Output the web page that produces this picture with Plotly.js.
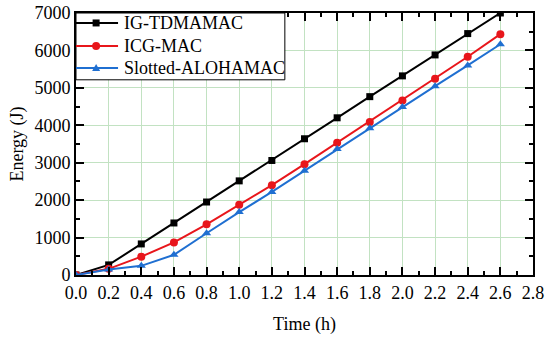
<!DOCTYPE html>
<html>
<head>
<meta charset="utf-8">
<script src="https://cdn.plot.ly/plotly-3.0.1.min.js"></script>
<style>html,body{margin:0;padding:0;background:#fff;}#chart{width:550px;height:340px;}</style>
</head>
<body>
<div id="chart"></div>
<script>
const timeH = [0.0, 0.2, 0.4, 0.6, 0.8, 1.0, 1.2, 1.4, 1.6, 1.8, 2.0, 2.2, 2.4, 2.6];
const igTdmaMac = [0, 270, 830, 1390, 1950, 2515, 3060, 3640, 4200, 4765, 5320, 5880, 6450, 7000];
const icgMac = [0, 165, 490, 870, 1355, 1880, 2400, 2960, 3535, 4090, 4665, 5240, 5830, 6435];
const slottedAloha = [0, 150, 245, 540, 1115, 1680, 2220, 2785, 3365, 3920, 4490, 5045, 5600, 6165];
const seriesNames = ['IG-TDMAMAC', 'ICG-MAC', 'Slotted-ALOHAMAC'];
const seriesColors = ['#000000', '#e8161b', '#1f6fd1'];
const xTicks = [0.0, 0.2, 0.4, 0.6, 0.8, 1.0, 1.2, 1.4, 1.6, 1.8, 2.0, 2.2, 2.4, 2.6, 2.8];
const yTicks = [0, 1000, 2000, 3000, 4000, 5000, 6000, 7000];

const font = '"Liberation Serif"';
const traces = [
  {x: timeH, y: igTdmaMac, name: seriesNames[0], mode: 'lines+markers',
   line: {color: seriesColors[0], width: 2}, marker: {symbol: 'square', size: 7, color: seriesColors[0]}},
  {x: timeH, y: icgMac, name: seriesNames[1], mode: 'lines+markers',
   line: {color: seriesColors[1], width: 2}, marker: {symbol: 'circle', size: 8, color: seriesColors[1]}},
  {x: timeH, y: slottedAloha, name: seriesNames[2], mode: 'lines+markers',
   line: {color: seriesColors[2], width: 2}, marker: {symbol: 'triangle-up', size: 8, color: seriesColors[2]}}
];

// Hand-built legend (layout only): box, line samples, marker samples, labels
const legRowsY = [0.962, 0.874, 0.790];
const shapes = [
  {type: 'rect', xref: 'paper', yref: 'paper', x0: 0, x1: 0.457, y0: 0.745, y1: 1,
   fillcolor: '#fff', line: {color: '#000', width: 1}, layer: 'above'}
];
const annotations = [];
const markerPaths = [
  'M-3.5,-3.5 L3.5,-3.5 L3.5,3.5 L-3.5,3.5 Z',
  null,
  'M-4,-3 L4,-3 L0,4 Z'
];
legRowsY.forEach((yy, i) => {
  shapes.push({type: 'line', xref: 'paper', yref: 'paper', x0: 0, x1: 0.092, y0: yy, y1: yy,
               line: {color: seriesColors[i], width: 2}, layer: 'above'});
  if (i === 1) {
    shapes.push({type: 'circle', xref: 'paper', yref: 'paper', xsizemode: 'pixel', ysizemode: 'pixel',
                 xanchor: 0.044, yanchor: yy, x0: -4, x1: 4, y0: -4, y1: 4,
                 fillcolor: seriesColors[i], line: {color: seriesColors[i], width: 0}, layer: 'above'});
  } else {
    shapes.push({type: 'path', xref: 'paper', yref: 'paper', xsizemode: 'pixel', ysizemode: 'pixel',
                 xanchor: 0.044, yanchor: yy, path: markerPaths[i],
                 fillcolor: seriesColors[i], line: {color: seriesColors[i], width: 0}, layer: 'above'});
  }
  annotations.push({xref: 'paper', yref: 'paper', x: 0.1, y: yy, xanchor: 'left', yanchor: 'middle',
                    text: seriesNames[i], showarrow: false, font: {family: font, size: 18, color: '#000'}});
});

const layout = {
  width: 550, height: 340,
  margin: {l: 76, r: 17, t: 13, b: 65},
  paper_bgcolor: '#fff', plot_bgcolor: '#fff',
  font: {family: font, size: 18, color: '#000'},
  showlegend: false,
  shapes: shapes,
  annotations: annotations,
  xaxis: {
    range: [0, 2.8], tickvals: xTicks, ticktext: xTicks.map(v => v.toFixed(1)),
    ticks: 'inside', ticklen: 8, tickwidth: 2, tickcolor: '#000',
    showline: true, linecolor: '#000', linewidth: 2, mirror: 'allticks',
    showgrid: true, gridcolor: '#c2e2c2', gridwidth: 1, zeroline: false,
    minor: {ticks: 'inside', dtick: 0.1, tick0: 0, ticklen: 4, tickwidth: 2, tickcolor: '#000', showgrid: false},
    title: {text: 'Time (h)', font: {family: font, size: 18}, standoff: 16},
    tickfont: {family: font, size: 18}
  },
  yaxis: {
    range: [0, 7000], tickvals: yTicks,
    ticks: 'inside', ticklen: 8, tickwidth: 2, tickcolor: '#000',
    showline: true, linecolor: '#000', linewidth: 2, mirror: 'allticks',
    showgrid: true, gridcolor: '#c2e2c2', gridwidth: 1, zeroline: false,
    minor: {ticks: 'inside', dtick: 500, tick0: 0, ticklen: 4, tickwidth: 2, tickcolor: '#000', showgrid: false},
    title: {text: 'Energy (J)', font: {family: font, size: 18}, standoff: 6},
    tickfont: {family: font, size: 18}
  }
};
Plotly.newPlot('chart', traces, layout, {displayModeBar: false, staticPlot: true});
</script>
</body>
</html>
